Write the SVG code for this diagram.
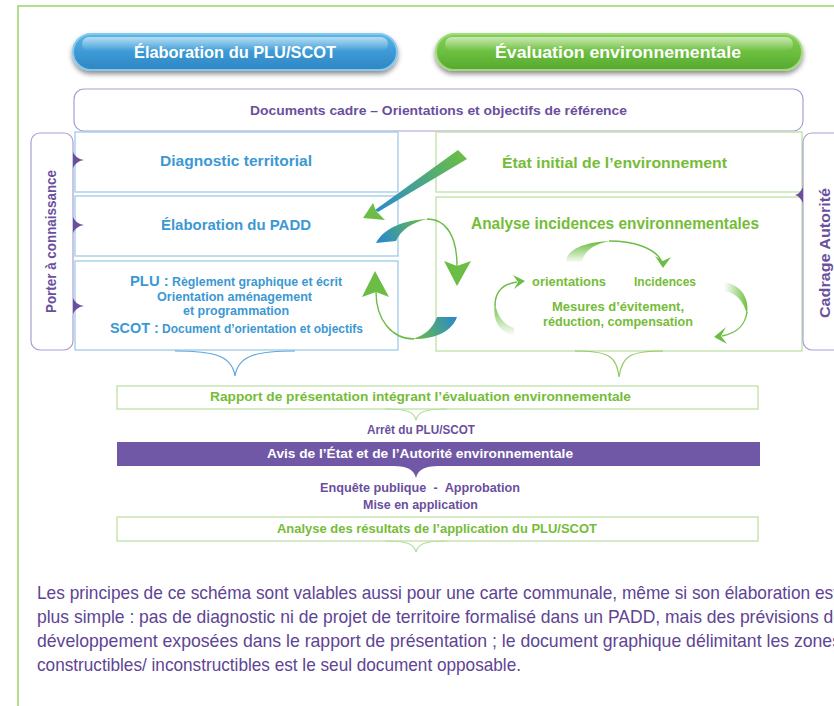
<svg xmlns="http://www.w3.org/2000/svg" width="834" height="706" viewBox="0 0 834 706">
<style>
.t{font-family:"Liberation Sans",Arial,sans-serif;font-weight:bold}
.blue{fill:#3c98d3}
.green{fill:#76bc38}
.purple{fill:#6a4f9e}
.white{fill:#ffffff}
.bbox{fill:#ffffff;stroke:#9ccbea;stroke-width:1.3}
.gbox{fill:#ffffff;stroke:#bfe1a6;stroke-width:1.3}
.pbox{fill:#ffffff;stroke:#a99dd2;stroke-width:1.2}
.tri{fill:#6a4f9e}
.thin{fill:none;stroke:#6cbd45;stroke-width:1.4}
.para{font-family:"Liberation Sans Narrow","Liberation Sans",Arial,sans-serif;font-size:19px;fill:#5e4494}
</style>
<defs>
<filter id="sh" x="-10%" y="-30%" width="120%" height="180%">
<feDropShadow dx="0" dy="3" stdDeviation="2.5" flood-color="#000" flood-opacity="0.45"/>
</filter>
<linearGradient id="gBlue" x1="0" y1="0" x2="0" y2="1">
<stop offset="0" stop-color="#5cb6e6"/><stop offset="0.5" stop-color="#3d9ad6"/><stop offset="1" stop-color="#2e86c2"/>
</linearGradient>
<linearGradient id="gGreen" x1="0" y1="0" x2="0" y2="1">
<stop offset="0" stop-color="#86cf55"/><stop offset="0.5" stop-color="#6cbf3f"/><stop offset="1" stop-color="#56a92f"/>
</linearGradient>
<linearGradient id="gloss" x1="0" y1="0" x2="0" y2="1">
<stop offset="0" stop-color="#fff" stop-opacity="0.55"/><stop offset="1" stop-color="#fff" stop-opacity="0"/>
</linearGradient>
<linearGradient id="w1" gradientUnits="userSpaceOnUse" x1="466" y1="154" x2="378" y2="212">
<stop offset="0" stop-color="#6cbf3f"/><stop offset="1" stop-color="#2b8ccc"/>
</linearGradient>
<linearGradient id="w2" gradientUnits="userSpaceOnUse" x1="380" y1="242" x2="428" y2="219">
<stop offset="0" stop-color="#2a88cc"/><stop offset="1" stop-color="#6cbf3f"/>
</linearGradient>
<linearGradient id="w3" gradientUnits="userSpaceOnUse" x1="456" y1="317" x2="413" y2="339">
<stop offset="0" stop-color="#2a88cc"/><stop offset="1" stop-color="#6cbf3f"/>
</linearGradient>
<linearGradient id="f1" gradientUnits="userSpaceOnUse" x1="0" y1="263" x2="0" y2="242">
<stop offset="0" stop-color="#fff"/><stop offset="1" stop-color="#6cbf3f"/>
</linearGradient>
<linearGradient id="f2" gradientUnits="userSpaceOnUse" x1="724" y1="0" x2="748" y2="0">
<stop offset="0" stop-color="#fff"/><stop offset="1" stop-color="#6cbf3f"/>
</linearGradient>
<linearGradient id="f3" gradientUnits="userSpaceOnUse" x1="0" y1="336" x2="0" y2="303">
<stop offset="0" stop-color="#fff"/><stop offset="1" stop-color="#6cbf3f"/>
</linearGradient>
</defs>
<rect width="834" height="706" fill="#ffffff"/>
<path d="M18,706 V6 H834" fill="none" stroke="#9ad46a" stroke-width="1.5"/>

<g id="header-elaboration">
<rect x="73" y="34" width="324" height="36" rx="18" fill="url(#gBlue)" stroke="#86c8ee" stroke-width="2" filter="url(#sh)"/>
<rect x="82" y="37" width="306" height="14" rx="7" fill="url(#gloss)"/>
<text class="t white" x="235" y="58" font-size="17" text-anchor="middle" textLength="202" lengthAdjust="spacingAndGlyphs">Élaboration du PLU/SCOT</text>
</g>
<g id="header-evaluation">
<rect x="436" y="34" width="366" height="36" rx="18" fill="url(#gGreen)" stroke="#a3da7e" stroke-width="2" filter="url(#sh)"/>
<rect x="445" y="37" width="348" height="14" rx="7" fill="url(#gloss)"/>
<text class="t white" x="618" y="58" font-size="17" text-anchor="middle" textLength="246" lengthAdjust="spacingAndGlyphs">Évaluation environnementale</text>
</g>

<g id="documents-cadre">
<rect class="pbox" x="74" y="89" width="729" height="42" rx="10"/>
<text class="t purple" x="438.5" y="115" font-size="13" text-anchor="middle" textLength="377" lengthAdjust="spacingAndGlyphs">Documents cadre – Orientations et objectifs de référence</text>
</g>

<g id="diagnostic">
<rect class="bbox" x="75" y="132" width="323" height="60"/>
<text class="t blue" x="236" y="166" font-size="15" text-anchor="middle" textLength="152" lengthAdjust="spacingAndGlyphs">Diagnostic territorial</text>
</g>
<g id="padd">
<rect class="bbox" x="75" y="196" width="323" height="60"/>
<text class="t blue" x="236" y="230" font-size="15" text-anchor="middle" textLength="150" lengthAdjust="spacingAndGlyphs">Élaboration du PADD</text>
</g>
<g id="reglement">
<rect class="bbox" x="75" y="261" width="323" height="89"/>
<text class="t blue" x="236" y="286" font-size="12.5" text-anchor="middle" textLength="212" lengthAdjust="spacingAndGlyphs"><tspan font-size="15">PLU :</tspan> Règlement graphique et écrit</text>
<text class="t blue" x="234.5" y="301" font-size="12.5" text-anchor="middle" textLength="155" lengthAdjust="spacingAndGlyphs">Orientation aménagement</text>
<text class="t blue" x="236" y="315" font-size="12.5" text-anchor="middle" textLength="106" lengthAdjust="spacingAndGlyphs">et programmation</text>
<text class="t blue" x="236.5" y="333" font-size="12.5" text-anchor="middle" textLength="253" lengthAdjust="spacingAndGlyphs"><tspan font-size="15">SCOT :</tspan> Document d’orientation et objectifs</text>
</g>

<g id="etat-initial">
<rect class="gbox" x="436" y="132" width="366" height="60"/>
<text class="t green" x="614.5" y="168" font-size="15" text-anchor="middle" textLength="225" lengthAdjust="spacingAndGlyphs">État initial de l’environnement</text>
</g>
<g id="analyse-incidences">
<rect class="gbox" x="436" y="197" width="366" height="154"/>
<text class="t green" x="615" y="229" font-size="16" text-anchor="middle" textLength="288" lengthAdjust="spacingAndGlyphs">Analyse incidences environnementales</text>
<text class="t green" x="569" y="286" font-size="12.5" text-anchor="middle" textLength="74" lengthAdjust="spacingAndGlyphs">orientations</text>
<text class="t green" x="665" y="286" font-size="12.5" text-anchor="middle" textLength="62" lengthAdjust="spacingAndGlyphs">Incidences</text>
<text class="t green" x="618" y="311" font-size="12.5" text-anchor="middle" textLength="132" lengthAdjust="spacingAndGlyphs">Mesures d’évitement,</text>
<text class="t green" x="618" y="326" font-size="12.5" text-anchor="middle" textLength="150" lengthAdjust="spacingAndGlyphs">réduction, compensation</text>
</g>

<g id="porter-connaissance">
<rect class="pbox" x="31" y="133" width="42" height="217" rx="9"/>
<path class="tri" d="M73,152 C75,156 78,159 84,160 C78,161 75,164 73,168 Z"/>
<path class="tri" d="M73,217 C75,221 78,224 84,225 C78,226 75,229 73,233 Z"/>
<path class="tri" d="M73,298 C75,302 78,305 84,306 C78,307 75,310 73,314 Z"/>
<text class="t purple" transform="translate(56,241.5) rotate(-90)" font-size="14" font-weight="normal" text-anchor="middle" textLength="143" lengthAdjust="spacingAndGlyphs">Porter à connaissance</text>
</g>

<g id="cadrage-autorite">
<rect class="pbox" x="803" y="133" width="60" height="217" rx="9"/>
<path class="tri" d="M803,187 C801,191 799,194 795,195 C799,196 801,199 803,203 Z"/>
<text class="t purple" transform="translate(830,253) rotate(-90)" font-size="14" text-anchor="middle" textLength="130" lengthAdjust="spacingAndGlyphs">Cadrage Autorité</text>
<text class="t purple" transform="translate(846,253) rotate(-90)" font-size="14" text-anchor="middle" textLength="140" lengthAdjust="spacingAndGlyphs">environnementale</text>
</g>

<g id="rapport">
<rect class="gbox" x="117" y="386" width="641" height="23"/>
<text class="t green" x="420.5" y="401" font-size="13.5" text-anchor="middle" textLength="421" lengthAdjust="spacingAndGlyphs">Rapport de présentation intégrant l’évaluation environnementale</text>
</g>
<g id="arret">
<text class="t purple" x="421" y="434" font-size="12" text-anchor="middle" textLength="108" lengthAdjust="spacingAndGlyphs">Arrêt du PLU/SCOT</text>
</g>
<g id="avis">
<rect x="117" y="442" width="643" height="24" fill="#7058a6"/>
<text class="t white" x="420" y="458" font-size="13.5" text-anchor="middle" textLength="306" lengthAdjust="spacingAndGlyphs">Avis de l’État et de l’Autorité environnementale</text>
</g>
<g id="enquete">
<text class="t purple" x="420" y="492" font-size="12.5" text-anchor="middle" textLength="200" lengthAdjust="spacingAndGlyphs">Enquête publique &#160;- &#160;Approbation</text>
<text class="t purple" x="420.5" y="509" font-size="12.5" text-anchor="middle" textLength="115" lengthAdjust="spacingAndGlyphs">Mise en application</text>
</g>
<g id="analyse-resultats">
<rect class="gbox" x="117" y="517" width="641" height="24"/>
<text class="t green" x="437" y="533" font-size="13.5" text-anchor="middle" textLength="320" lengthAdjust="spacingAndGlyphs">Analyse des résultats de l’application du PLU/SCOT</text>
</g>

<g id="connectors">
<path d="M458,150 L467,159 L378,212 L375,210 Z" fill="url(#w1)"/>
<path d="M363,218 L373,203 L376,211 L385,220 Z" fill="#6cbd45"/>
<path d="M376,243 C384,228 404,220 428,219 C412,222 401,230 396,241 Z" fill="url(#w2)"/>
<path class="thin" d="M427,219 C446,219 457,236 457,266"/>
<path d="M444,261 L457,266 L471,261 L457,286 Z" fill="#6cbd45"/>
<path d="M437,317 L457,317 C452,331 437,339 413,339 C425,335 433,328 437,317 Z" fill="url(#w3)"/>
<path class="thin" d="M414,339 C392,339 376,320 376,292"/>
<path d="M362,297 L376,292 L389,297 L375,271 Z" fill="#6cbd45"/>
<path d="M566,262 C566,250 584,242 610,241 C594,244 584,251 582,262 Z" fill="url(#f1)"/>
<path class="thin" d="M609,241 C634,241 654,248 661,260"/>
<path d="M655,256 L663,261 L671,257 L663,268 Z" fill="#6cbd45"/>
<path d="M724,282 C741,285 750,298 747,315 C744,302 737,293 724,291 Z" fill="url(#f2)"/>
<path class="thin" d="M747,312 C745,325 738,333 722,336"/>
<path d="M726,327 L721,336 L727,344 L714,337 Z" fill="#6cbd45"/>
<path d="M514,336 C499,332 492,320 495,303 C497,316 504,325 514,328 Z" fill="url(#f3)"/>
<path class="thin" d="M495,306 C495,292 502,284 517,282"/>
<path d="M513,275 L518,282 L514,289 L525,281 Z" fill="#6cbd45"/>
<path d="M175,351 C215,351 232,356 235,376 C238,356 255,351 295,351" fill="none" stroke="#5ea7db" stroke-width="1.2"/>
<path d="M575,351 C611,351 616,357 619,377 C622,357 628,351 663,351" fill="none" stroke="#8fcd65" stroke-width="1.2"/>
<path d="M385,409 C408,409 414,412 416,420 C418,412 424,409 447,409" fill="none" stroke="#b5dc98" stroke-width="1.2"/>
<path d="M393,466 C408,466 414,470 416,478 C418,470 424,466 439,466 Z" fill="#7058a6"/>
<path d="M385,541 C408,541 414,544 416,552 C418,544 424,541 447,541" fill="none" stroke="#b5dc98" stroke-width="1.2"/>
</g>

<g id="note">
<text class="para" x="37" y="599" textLength="801" lengthAdjust="spacingAndGlyphs">Les principes de ce schéma sont valables aussi pour une carte communale, même si son élaboration est</text>
<text class="para" x="37" y="623" textLength="806" lengthAdjust="spacingAndGlyphs">plus simple : pas de diagnostic ni de projet de territoire formalisé dans un PADD, mais des prévisions de</text>
<text class="para" x="37" y="647" textLength="804" lengthAdjust="spacingAndGlyphs">développement exposées dans le rapport de présentation ; le document graphique délimitant les zones</text>
<text class="para" x="37" y="671" textLength="484" lengthAdjust="spacingAndGlyphs">constructibles/ inconstructibles est le seul document opposable.</text>
</g>
</svg>
